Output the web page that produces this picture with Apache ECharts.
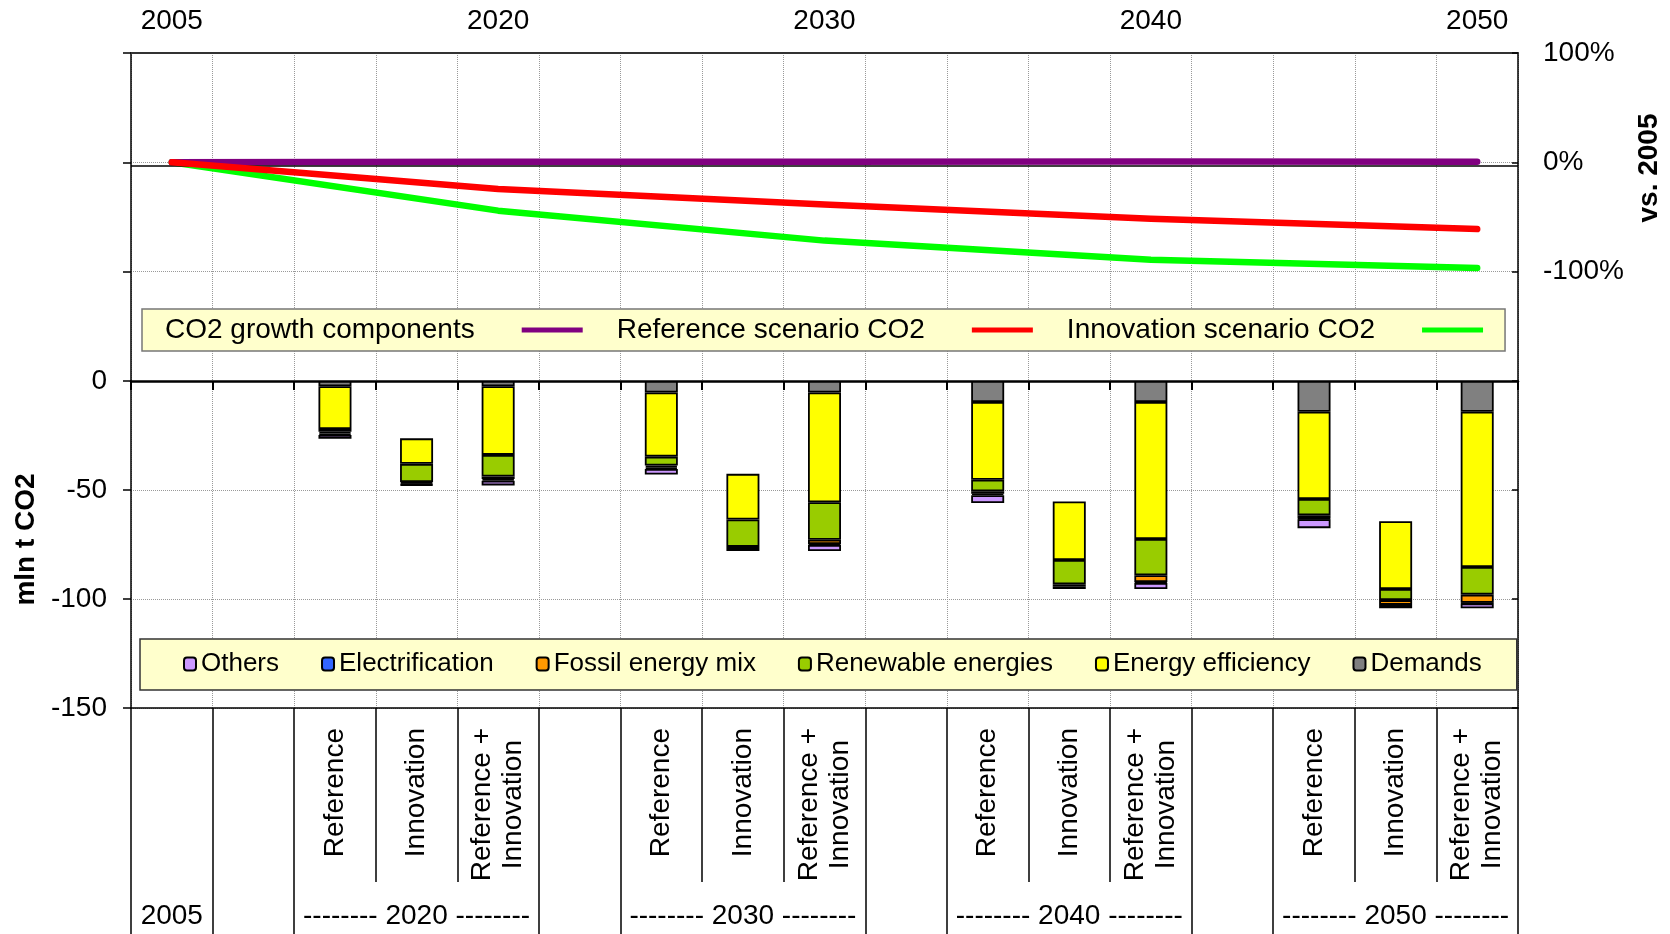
<!DOCTYPE html>
<html>
<head>
<meta charset="utf-8">
<script src="https://cdn.jsdelivr.net/npm/echarts@6/dist/echarts.min.js"></script>
<style>
  html, body { margin: 0; padding: 0; background: #fff; }
  #chart { width: 1670px; height: 934px; }
</style>
</head>
<body>
<div id="chart"></div>
<script>
const FONT = "'Liberation Sans', Arial, sans-serif";

// Columns of the lower panel: 2005, gap, then Reference / Innovation / Reference + Innovation per target year
const columnLabels = ['', '', 'Reference', 'Innovation', 'Reference +\nInnovation', '',
  'Reference', 'Innovation', 'Reference +\nInnovation', '',
  'Reference', 'Innovation', 'Reference +\nInnovation', '',
  'Reference', 'Innovation', 'Reference +\nInnovation'];
const groupLabels = ['2005', '', '', '-------- 2020 --------', '', '', '', '-------- 2030 --------', '',
  '', '', '-------- 2040 --------', '', '', '', '-------- 2050 --------', ''];
const groupStarts = [0, 1, 2, 5, 6, 9, 10, 13, 14];

// Years of the upper panel and the column each one sits on
const yearLabels = ['2005', '2020', '2030', '2040', '2050'];
const yearColumns = [0, 4, 8, 12, 16];

// CO2 change vs. 2005, %
const growthComponents = [0, 0.5, 0.6, 0.8, 0.6];
const referenceCO2 = [0, -24.4, -38.5, -51.5, -61];
const innovationCO2 = [0, -44.2, -71.6, -89, -96.6];

// CO2 reduction components, mln t CO2 (one value per column)
const innovationBase = [null, null, null, -26.3, null, null, null, -42.6, null, null, null, -55.3, null, null, null, -64.3, null];
const demands = [null, null, -2.4, null, -2.4, null, -5.3, null, -5.3, null, -9.6, null, -9.6, null, -14.1, null, -14.1];
const efficiency = [null, null, -19.6, -11.7, -31.5, null, -29.4, -20.9, -50.3, null, -35.7, -26.8, -62.9, null, -40.0, -31.1, -71.2];
const renewables = [null, null, -1.3, -8.4, -9.9, null, -4.1, -12.6, -17.2, null, -5.3, -11.1, -16.6, null, -7.5, -5.1, -12.7];
const fossilMix = [null, null, -0.8, -0.7, -1.2, null, -0.8, -1.0, -2.0, null, -1.1, -1.2, -3.1, null, -1.5, -2.2, -3.7];
const electrification = [null, null, -0.7, -0.5, -0.7, null, -0.8, -0.9, -0.4, null, -0.7, -1.0, -0.4, null, -0.3, -1.6, -0.3];
const others = [null, null, -1.7, -0.3, -2.2, null, -2.5, null, -2.8, null, -3.6, null, -2.8, null, -4.1, null, -2.3];

const ids = columnLabels.map((_, i) => 'col' + i);
const topLabels = ids.map(() => '');
yearColumns.forEach((c, k) => { topLabels[c] = yearLabels[k]; });
function atYears(vals) {
  const out = ids.map(() => null);
  yearColumns.forEach((c, k) => { out[c] = vals[k]; });
  return out;
}

const black = '#000';
const dotted = { show: true, lineStyle: { color: '#999', type: 'dotted', width: 1 } };
const txt = { fontFamily: FONT, fontSize: 28, color: black };

function barSeries(name, data, color) {
  return {
    type: 'bar', name: name, data: data, stack: 'effects',
    xAxisIndex: 1, yAxisIndex: 2, barWidth: 33,
    itemStyle: { color: color, borderColor: black, borderWidth: 1.8 },
    emphasis: { disabled: true }, z: 3
  };
}

const chart = echarts.init(document.getElementById('chart'), null, { renderer: 'canvas' });
chart.setOption({
  animation: false,
  backgroundColor: '#fff',
  textStyle: { fontFamily: FONT },
  grid: [
    { left: 131, right: 152, top: 53, height: 328, outerBoundsMode: 'none' },
    { left: 131, right: 152, top: 381, height: 327, outerBoundsMode: 'none' }
  ],
  legend: [
    {
      data: [
        { name: 'CO2 growth components', icon: 'rect', itemStyle: { color: '#800080', borderWidth: 0 } },
        { name: 'Reference scenario CO2', icon: 'rect', itemStyle: { color: '#FF0000', borderWidth: 0 } },
        { name: 'Innovation scenario CO2', icon: 'rect', itemStyle: { color: '#00FF00', borderWidth: 0 } }
      ],
      left: 142, top: 309, orient: 'horizontal', align: 'right',
      itemWidth: 61, itemHeight: 5, itemGap: 34,
      padding: [7, 22, 7, 23],
      backgroundColor: '#FFFFCC', borderColor: '#777', borderWidth: 1.5,
      textStyle: { fontFamily: FONT, fontSize: 28, color: black, padding: [0, 42, 0, 0] },
      selectedMode: false
    },
    {
      data: ['Others', 'Electrification', 'Fossil energy mix', 'Renewable energies', 'Energy efficiency', 'Demands'],
      left: 140, top: 639, orient: 'horizontal',
      itemWidth: 12, itemHeight: 13, itemGap: 42,
      padding: [12, 35, 13, 43],
      backgroundColor: '#FFFFCC', borderColor: '#333', borderWidth: 1.5,
      textStyle: { fontFamily: FONT, fontSize: 26, color: black },
      selectedMode: false
    }
  ],
  xAxis: [
    {
      gridIndex: 0, type: 'category', data: ids, position: 'top', boundaryGap: true,
      axisLine: { show: true, onZero: false, lineStyle: { color: '#333', width: 2 } },
      axisTick: { show: false },
      axisLabel: Object.assign({ interval: 0, margin: 18, formatter: (v, i) => topLabels[i] }, txt),
      splitLine: Object.assign({ interval: 0 }, dotted)
    },
    {
      gridIndex: 1, type: 'category', data: ids, position: 'top', boundaryGap: true,
      axisLine: { show: true, onZero: false, lineStyle: { color: black, width: 2.5 } },
      axisTick: { show: true, inside: true, length: 9, interval: 0, lineStyle: { color: black, width: 2 } },
      axisLabel: { show: false },
      splitLine: Object.assign({ interval: 0 }, dotted)
    },
    {
      gridIndex: 1, type: 'category', data: ids, position: 'bottom', boundaryGap: true,
      axisLine: { show: true, onZero: false, lineStyle: { color: black, width: 1.5 } },
      axisTick: { show: true, interval: 0, length: 174, lineStyle: { color: black, width: 1.5 } },
      axisLabel: Object.assign({
        interval: 0, rotate: 90, margin: 20,
        formatter: (v, i) => {
          const s = columnLabels[i];
          return s.indexOf('\n') >= 0 ? s.split('\n').map(t => '{c|' + t + '}').join('\n') : s;
        },
        rich: { c: { align: 'center', fontFamily: FONT, fontSize: 28, color: black, lineHeight: 31 } }
      }, txt),
      splitLine: { show: false }
    },
    {
      gridIndex: 1, type: 'category', data: ids, position: 'bottom', boundaryGap: true,
      axisLine: { show: false, onZero: false },
      axisTick: { show: true, interval: (i) => groupStarts.indexOf(i) >= 0, length: 226, lineStyle: { color: black, width: 1.5 } },
      axisLabel: Object.assign({ interval: 0, margin: 194, lineHeight: 28, formatter: (v, i) => groupLabels[i] }, txt),
      splitLine: { show: false }
    }
  ],
  yAxis: [
    {
      gridIndex: 0, type: 'value', position: 'left', min: -200, max: 100, interval: 100,
      axisLine: { show: true, onZero: false, lineStyle: { color: black, width: 1.5 } },
      axisTick: { show: true, length: 8, lineStyle: { color: black, width: 1.5 } },
      axisLabel: { show: false },
      splitLine: { show: false }
    },
    {
      gridIndex: 0, type: 'value', position: 'right', min: -200, max: 100, interval: 100,
      axisLine: { show: true, onZero: false, lineStyle: { color: black, width: 1.5 } },
      axisTick: { show: true, inside: true, length: 6, lineStyle: { color: black, width: 1.5 } },
      axisLabel: Object.assign({ margin: 25, formatter: v => (v <= -200 ? '' : v + '%') }, txt),
      splitLine: dotted,
      name: 'vs. 2005', nameLocation: 'middle', nameRotate: 90, nameGap: 102,
      nameTextStyle: { fontFamily: FONT, fontSize: 28, fontWeight: 'bold', color: black, padding: [0, 0, 0, 98] }
    },
    {
      gridIndex: 1, type: 'value', position: 'left', min: -150, max: 0, interval: 50,
      axisLine: { show: true, onZero: false, lineStyle: { color: black, width: 1.5 } },
      axisTick: { show: true, length: 8, lineStyle: { color: black, width: 1.5 } },
      axisLabel: Object.assign({ margin: 24 }, txt),
      splitLine: dotted,
      name: 'mln t CO2', nameLocation: 'middle', nameRotate: 90, nameGap: 88,
      nameTextStyle: { fontFamily: FONT, fontSize: 28, fontWeight: 'bold', color: black, padding: [0, 0, 0, 10] }
    },
    {
      gridIndex: 1, type: 'value', position: 'right', min: -150, max: 0, interval: 50,
      axisLine: { show: true, onZero: false, lineStyle: { color: black, width: 1.5 } },
      axisTick: { show: true, inside: true, length: 6, lineStyle: { color: black, width: 1.5 } },
      axisLabel: { show: false },
      splitLine: { show: false }
    }
  ],
  series: [
    {
      type: 'line', name: 'Innovation scenario CO2', data: atYears(innovationCO2),
      xAxisIndex: 0, yAxisIndex: 1, connectNulls: true, symbol: 'none', showSymbol: false, z: 3,
      lineStyle: { color: '#00FF00', width: 6.5, cap: 'round', join: 'round' },
      itemStyle: { color: '#00FF00' }, emphasis: { disabled: true },
      markLine: {
        silent: true, symbol: ['none', 'none'], label: { show: false },
        lineStyle: { color: black, width: 1.5, type: 'solid' },
        data: [{ yAxis: -3 }]
      }
    },
    {
      type: 'line', name: 'CO2 growth components', data: atYears(growthComponents),
      xAxisIndex: 0, yAxisIndex: 1, connectNulls: true, symbol: 'none', showSymbol: false, z: 4,
      lineStyle: { color: '#800080', width: 6.5, cap: 'round', join: 'round' },
      itemStyle: { color: '#800080' }, emphasis: { disabled: true }
    },
    {
      type: 'line', name: 'Reference scenario CO2', data: atYears(referenceCO2),
      xAxisIndex: 0, yAxisIndex: 1, connectNulls: true, symbol: 'none', showSymbol: false, z: 5,
      lineStyle: { color: '#FF0000', width: 6.5, cap: 'round', join: 'round' },
      itemStyle: { color: '#FF0000' }, emphasis: { disabled: true }
    },
    {
      type: 'bar', name: 'base', data: innovationBase, stack: 'effects',
      xAxisIndex: 1, yAxisIndex: 2, barWidth: 33, silent: true,
      itemStyle: { color: 'rgba(0,0,0,0)', borderWidth: 0 }, emphasis: { disabled: true }
    },
    barSeries('Demands', demands, '#808080'),
    barSeries('Energy efficiency', efficiency, '#FFFF00'),
    barSeries('Renewable energies', renewables, '#99CC00'),
    barSeries('Fossil energy mix', fossilMix, '#FF9900'),
    barSeries('Electrification', electrification, '#3366FF'),
    barSeries('Others', others, '#CC99FF')
  ]
});
</script>
</body>
</html>
